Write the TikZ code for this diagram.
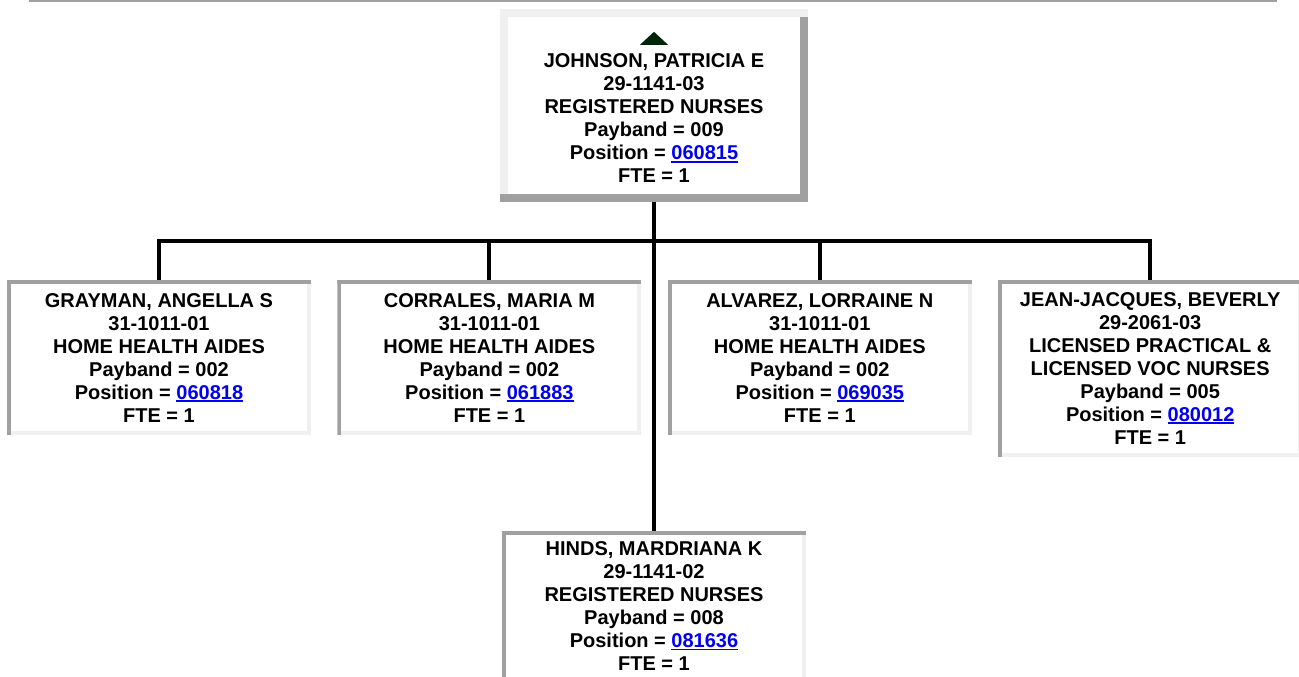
\documentclass[tikz,border=0pt]{standalone}
\usepackage{fontspec}
\setmainfont{Liberation Sans}
\usepackage{xcolor}
\usepackage{tikz}
\usetikzlibrary{positioning}
\definecolor{bdark}{RGB}{160,160,160}
\definecolor{blight}{RGB}{240,240,240}
\definecolor{linkblue}{RGB}{0,0,238}
\definecolor{upmark}{RGB}{0,38,8}
\newcommand{\poslink}[1]{\textcolor{linkblue}{\setbox0\hbox{#1}\rlap{\rule[-2.6pt]{\wd0}{1.8pt}}\box0}}

\begin{document}
\begin{tikzpicture}[
  x=1pt, y=-1pt,
  font=\fontsize{20}{23}\selectfont\bfseries,
  card/.style={fill=white, minimum width=304pt, minimum height=155pt, inner sep=0pt, align=center,
    path picture={
      \fill[bdark] (path picture bounding box.north west) rectangle ([yshift=-4pt]path picture bounding box.north east);
      \fill[bdark] (path picture bounding box.north west) rectangle ([xshift=4pt]path picture bounding box.south west);
      \fill[blight] ([yshift=-4pt]path picture bounding box.north east) rectangle ([xshift=-4pt]path picture bounding box.south east);
      \fill[blight] ([xshift=4pt]path picture bounding box.south west) rectangle ([yshift=4pt]path picture bounding box.south east);
    }},
  topcard/.style={fill=white, minimum width=308pt, minimum height=193pt, inner sep=0pt,
    path picture={
      \fill[blight] (path picture bounding box.north west) rectangle ([yshift=-8pt]path picture bounding box.north east);
      \fill[blight] (path picture bounding box.north west) rectangle ([xshift=8pt]path picture bounding box.south west);
      \fill[bdark] ([yshift=-8pt]path picture bounding box.north east) rectangle ([xshift=-8pt]path picture bounding box.south east);
      \fill[bdark] (path picture bounding box.south west) rectangle ([yshift=8pt]path picture bounding box.south east);
    }},
  cardtext/.style={inner sep=0pt, align=center},
  conn/.style={line width=4pt, black},
]
\useasboundingbox (0,0) rectangle (1299,677);
\fill[bdark] (29,0) rectangle (1277,2.5);

% ---- top of the chart ----
\node[topcard] (root) at (654,105.5) {};
\node[cardtext] (rootname) at (654,118.5) {JOHNSON, PATRICIA E\\29-1141-03\\REGISTERED NURSES\\Payband = 009\\Position = \poslink{060815}\\FTE = 1};
\fill[upmark] (root.north) ++(-14,36) -- ++(14,-13) -- ++(14,13) -- cycle;

% ---- direct reports ----
\node[card, anchor=north] (grayman) at (159,280) {GRAYMAN, ANGELLA S\\31-1011-01\\HOME HEALTH AIDES\\Payband = 002\\Position = \poslink{060818}\\FTE = 1};
\node[card, right=26pt of grayman] (corrales) {CORRALES, MARIA M\\31-1011-01\\HOME HEALTH AIDES\\Payband = 002\\Position = \poslink{061883}\\FTE = 1};
\node[card, right=26pt of corrales] (alvarez) {ALVAREZ, LORRAINE N\\31-1011-01\\HOME HEALTH AIDES\\Payband = 002\\Position = \poslink{069035}\\FTE = 1};
\node[card, minimum height=177pt, anchor=north west] (jean) at ([xshift=26pt]alvarez.north east) {JEAN-JACQUES, BEVERLY\\29-2061-03\\LICENSED PRACTICAL \&\\LICENSED VOC NURSES\\Payband = 005\\Position = \poslink{080012}\\FTE = 1};
\node[card, minimum height=150pt, below=329pt of root] (hinds) {HINDS, MARDRIANA K\\29-1141-02\\REGISTERED NURSES\\Payband = 008\\Position = \poslink{081636}\\FTE = 1};

% ---- connectors ----
\coordinate (bus) at (654,241);
\draw[conn] (root.south) -- (hinds.north);
\draw[conn] (grayman.north) -- (grayman.north |- bus) -- (jean.north |- bus) -- (jean.north);
\draw[conn] (corrales.north) -- (corrales.north |- bus);
\draw[conn] (alvarez.north) -- (alvarez.north |- bus);
\end{tikzpicture}
\end{document}
